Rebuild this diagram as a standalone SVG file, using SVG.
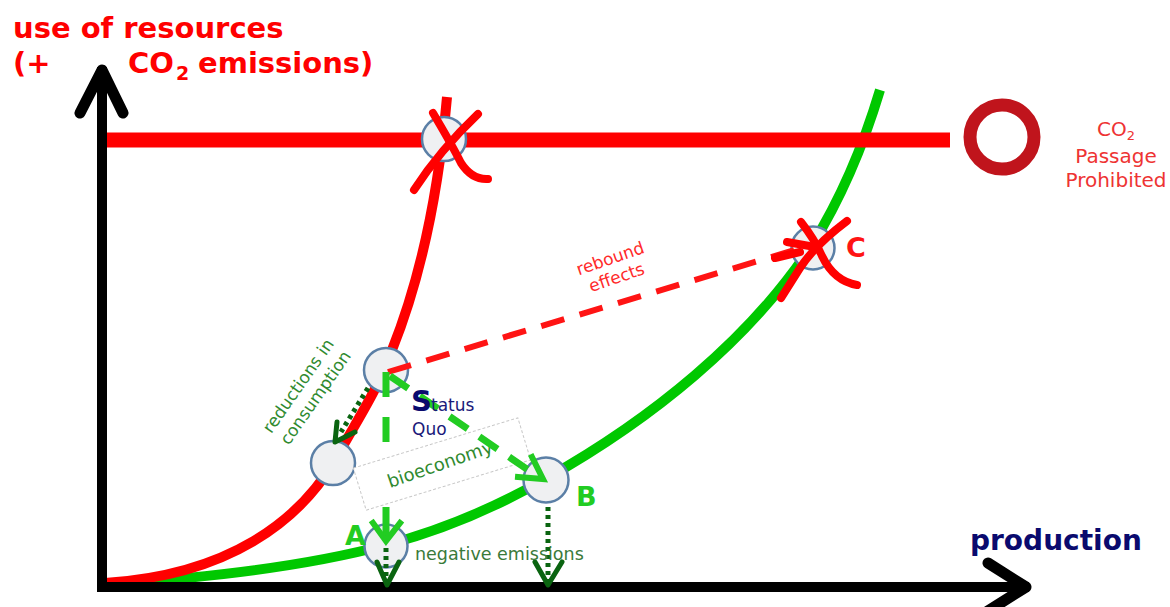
<svg xmlns="http://www.w3.org/2000/svg" width="1170" height="607" viewBox="0 0 1170 607">
<style>
text{font-family:"DejaVu Sans","Liberation Sans",sans-serif}
.title{font-weight:bold;fill:#ff0000;font-size:29px}
.node{fill:#eff0f2;stroke:#5b7fa6;stroke-width:2.5}
.xmark{fill:none;stroke:#ff0000;stroke-width:8;stroke-linecap:round;stroke-linejoin:round}
.reddash{fill:none;stroke:#ff1414;stroke-width:6;stroke-dasharray:24 16}
.greendash{fill:none;stroke:#22cc22;stroke-width:7}
.greenhead{fill:none;stroke:#22cc22;stroke-width:6;stroke-linecap:square}
.dots{fill:none;stroke:#0a6410;stroke-width:5;stroke-dasharray:4 4}
.dothead{fill:none;stroke:#0a6410;stroke-width:5;stroke-linecap:round;stroke-linejoin:round}
.lbl{font-weight:bold;font-size:27px}
</style>

<g id="curves">
  <path d="M110,584 C250,575 330,560 386,545 C450,528 500,505 547,478 C650,420 750,340 812,245 C840,200 862,150 880,90" fill="none" stroke="#00c800" stroke-width="10"/>
  <path d="M105,583 C230,575 300,520 335,460 C360,415 375,395 392,350 C420,280 438,200 447,97" fill="none" stroke="#ff0000" stroke-width="10"/>
  <path d="M107,140 H950" stroke="#ff0000" stroke-width="15"/>
</g>

<g id="axes" fill="none" stroke="#000" stroke-width="10">
  <polyline points="102,72 102,587 1024,587" stroke-linejoin="miter" stroke-linecap="square"/>
  <polyline points="80,113 102,70 123,113" stroke-width="11" stroke-linecap="round" stroke-linejoin="round"/>
  <polyline points="988,563 1026,587 988,611" stroke-width="11" stroke-linecap="round" stroke-linejoin="round"/>
</g>

<g id="prohibited">
  <circle cx="1002" cy="137" r="32" fill="#fff" stroke="#c0141c" stroke-width="13"/>
  <text x="1116" y="136" text-anchor="middle" font-size="20" fill="#ee3333">CO<tspan font-size="13" dy="4">2</tspan></text>
  <text x="1116" y="163" text-anchor="middle" font-size="20" fill="#ee3333">Passage</text>
  <text x="1116" y="187" text-anchor="middle" font-size="20" fill="#ee3333">Prohibited</text>
</g>

<g id="node-top"><circle class="node" cx="444" cy="139" r="22"/></g>
<g id="node-status"><circle class="node" cx="386" cy="370" r="22"/></g>
<g id="node-reduced"><circle class="node" cx="333" cy="463" r="22"/></g>
<g id="node-B"><circle class="node" cx="546" cy="480" r="22.5"/></g>
<g id="node-A"><circle class="node" cx="386" cy="546" r="21.5"/></g>
<g id="node-C"><circle class="node" cx="813" cy="248" r="21.5"/></g>

<g id="bioeconomy-box">
  <rect x="-86" y="-22" width="172" height="44" transform="translate(442,464) rotate(-17)" fill="#fff" stroke="#c8c8c8" stroke-width="1" stroke-dasharray="3 2"/>
  <text transform="translate(442,470) rotate(-19)" text-anchor="middle" font-size="18" fill="#2f8a2f">bioeconomy</text>
</g>

<g id="connectors">
  <path class="reddash" d="M388,372 L808,246"/>
  <path class="greendash" d="M386,372 V397 M386,417 V442 M386,507 V540"/>
  <polyline class="greenhead" points="373,523 386,541 400,523"/>
  <path class="greendash" d="M390,376 L540,478" stroke-dasharray="22 14"/>
  <polyline class="greenhead" points="532,457 543,479 518,477"/>
  <path class="dots" d="M368,388 L341,432"/>
  <polyline class="dothead" points="337,422 335,442 355,432"/>
  <path class="dots" d="M386,548 V580"/>
  <polyline class="dothead" points="377,562 387,585 399,562"/>
  <path class="dots" d="M548,507 V580"/>
  <polyline class="dothead" points="535,562 548,585 562,562"/>
</g>

<g id="crosses">
  <path class="xmark" d="M433,113 Q452,145 461,163 Q472,180 488,179"/>
  <path class="xmark" d="M478,114 Q440,150 414,190"/>
  <path class="xmark" d="M801,222 Q815,240 822,256 Q834,281 857,285"/>
  <path class="xmark" d="M847,221 Q815,245 800,268 L781,298"/>
  <path class="xmark" d="M775,258 L800,252"/>
  <path class="xmark" d="M787,242 L815,247"/>
</g>

<g id="labels">
  <text class="title" x="13" y="38">use of resources</text>
  <text class="title" x="13" y="73">(+</text>
  <text class="title" x="128" y="73">CO</text>
  <text class="title" x="176" y="80" style="font-size:19px">2</text>
  <text class="title" x="198" y="73">emissions)</text>
  <text x="970" y="550" font-size="28" font-weight="bold" fill="#0a0a6e">production</text>
  <text x="411" y="411" font-size="29" font-weight="bold" fill="#0a0a6e">S</text>
  <text x="431" y="411" font-size="17" fill="#1a1a7a">tatus</text>
  <text x="412" y="435" font-size="17" fill="#1a1a7a">Quo</text>
  <text class="lbl" x="345" y="545" fill="#22cc22">A</text>
  <text class="lbl" x="576" y="506" fill="#22cc22">B</text>
  <text class="lbl" x="846" y="257" fill="#ff1414">C</text>
  <text x="415" y="560" font-size="17.5" fill="#3a7a3a">negative emissions</text>
  <g transform="translate(303,389) rotate(-55)" font-size="17" fill="#2f8a2f" text-anchor="middle">
    <text x="0" y="0">reductions in</text>
    <text x="0" y="21">consumption</text>
  </g>
  <g transform="translate(612,264) rotate(-19)" font-size="17" fill="#ff2a2a" text-anchor="middle">
    <text x="0" y="0">rebound</text>
    <text x="0" y="20">effects</text>
  </g>
</g>
</svg>
